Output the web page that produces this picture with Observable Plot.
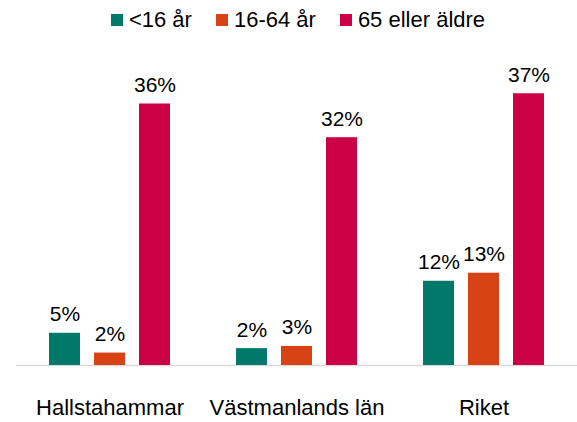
<!DOCTYPE html>
<html>
<head>
<meta charset="utf-8">
<script src="https://cdn.jsdelivr.net/npm/d3@7"></script>
<script src="https://cdn.jsdelivr.net/npm/@observablehq/plot@0.6"></script>
<style>
  body { margin: 0; background: #fff; font-family: "Liberation Sans", Arial, sans-serif; }
  #legend { height: 40px; display: flex; align-items: center; justify-content: center; padding-left: 19px; box-sizing: border-box; font-size: 22px; color: #000; }
  .item { display: flex; align-items: center; margin: 0 12px; }
  .sw { width: 12px; height: 12px; margin-right: 6px; }
</style>
</head>
<body>
<div id="legend"></div>
<div id="chart"></div>
<script>
const regions = ["Hallstahammar", "Västmanlands län", "Riket"];
const ageGroups = ["<16 år", "16-64 år", "65 eller äldre"];
const colors = ["#00796B", "#D84315", "#CC0044"];
// share per region, in order of ageGroups (estimated bar heights, %)
const hallstahammar = [4.4, 1.7, 35.7];
const vastmanland = [2.3, 2.6, 31.1];
const riket = [11.5, 12.6, 37.1];
// printed data labels
const labelsHallstahammar = ["5%", "2%", "36%"];
const labelsVastmanland = ["2%", "3%", "32%"];
const labelsRiket = ["12%", "13%", "37%"];

const series = [hallstahammar, vastmanland, riket];
const labelSets = [labelsHallstahammar, labelsVastmanland, labelsRiket];
const data = [];
regions.forEach((r, i) => ageGroups.forEach((g, j) => {
  data.push({region: r, group: g, value: series[i][j], label: labelSets[i][j]});
}));

const legend = document.getElementById("legend");
ageGroups.forEach((g, j) => {
  const it = document.createElement("div");
  it.className = "item";
  const sw = document.createElement("div");
  sw.className = "sw";
  sw.style.background = colors[j];
  const t = document.createElement("span");
  t.textContent = g;
  it.appendChild(sw); it.appendChild(t);
  legend.appendChild(it);
});

const chart = Plot.plot({
  width: 577,
  height: 382,
  marginLeft: 15,
  marginRight: 0,
  marginTop: 32,
  marginBottom: 57,
  style: {fontFamily: "Liberation Sans, Arial, sans-serif", background: "#fff"},
  fx: {domain: regions, padding: 0, label: null, axis: null},
  x: {domain: ageGroups, paddingInner: 0.32, paddingOuter: 0.726, axis: null},
  y: {domain: [0, 40], axis: null},
  color: {domain: ageGroups, range: colors},
  marks: [
    Plot.ruleY([0], {stroke: "#d9d9d9", strokeWidth: 1.5}),
    Plot.barY(data, {fx: "region", x: "group", y: "value", fill: "group"}),
    Plot.text(data, {fx: "region", x: "group", y: "value", text: "label", lineAnchor: "bottom", dy: -12, fontSize: 21, fill: "#000"}),
    Plot.axisFx({anchor: "bottom", tickSize: 0, tickPadding: 34, fontSize: 22, color: "#000", label: null})
  ]
});
document.getElementById("chart").appendChild(chart);
</script>
</body>
</html>
